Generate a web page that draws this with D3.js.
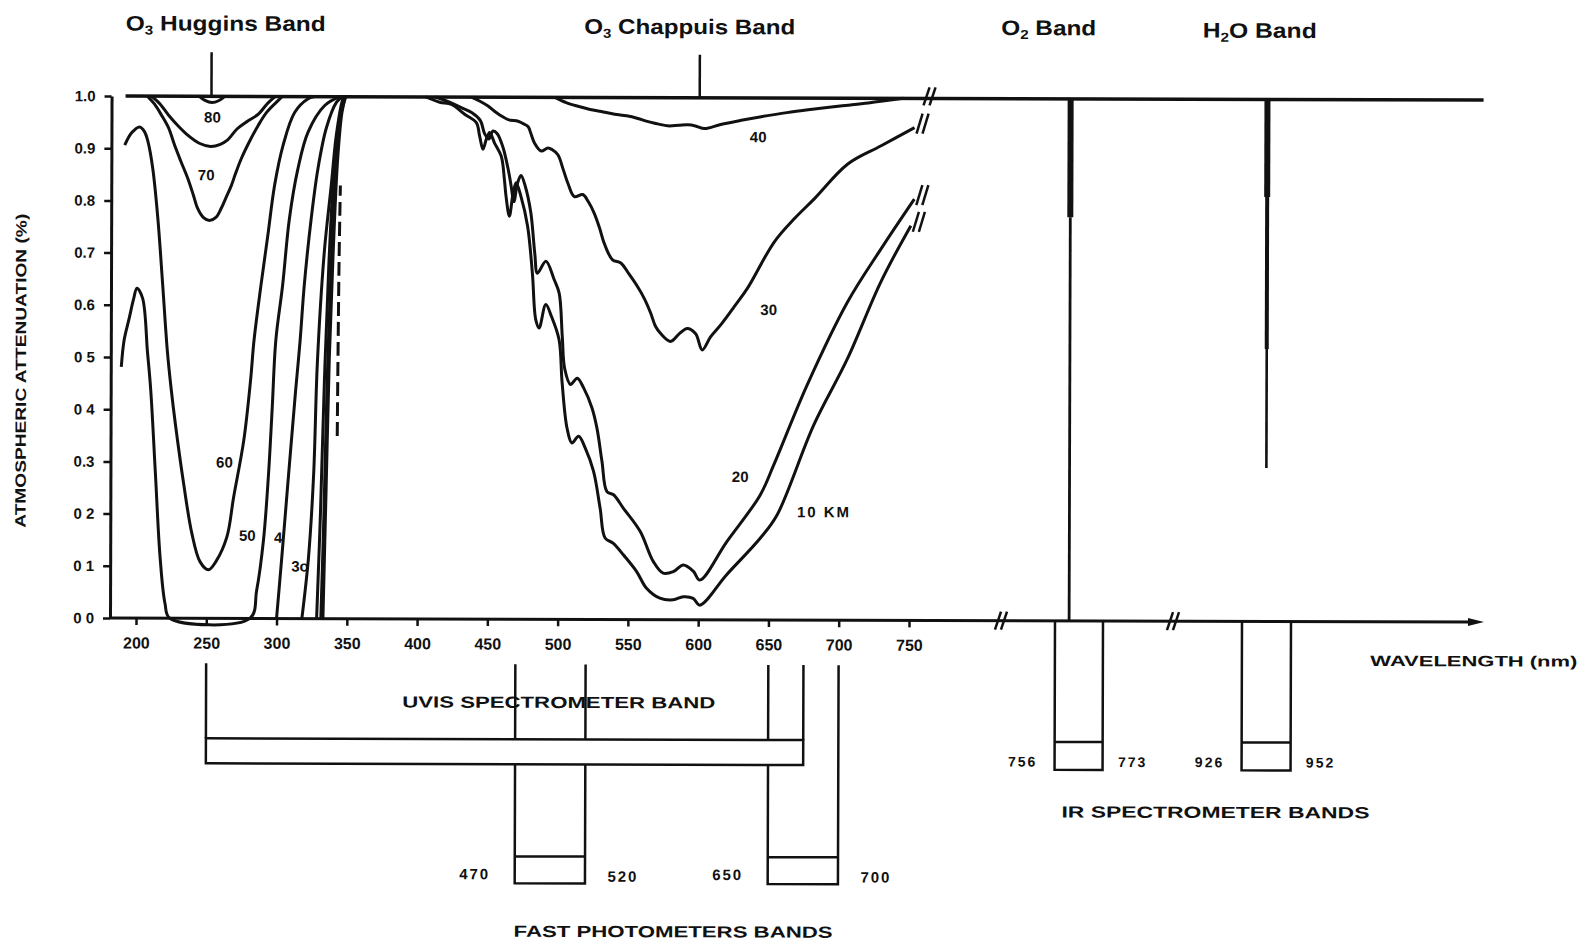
<!DOCTYPE html>
<meta charset="utf-8">

<!-- Load d3.js -->
<script src="https://d3js.org/d3.v7.min.js"></script>

<style>
  body { margin: 0; background: #fff; }
  text { font-family: "Liberation Sans", Arial, sans-serif; font-weight: bold; fill: #111; }
</style>

<!-- Create a div where the graph will take place -->
<div id="my_dataviz"></div>

<script>
// ---------- values ----------

// y axis
var yTicks = [0, 0.1, 0.2, 0.3, 0.4, 0.5, 0.6, 0.7, 0.8, 0.9, 1.0];
var yTickLabels = ["0 0", "0 1", "0 2", "0.3", "0 4", "0 5", "0.6", "0.7", "0.8", "0.9", "1.0"];

// x axis, wavelength in nm
var xTicks = [200, 250, 300, 350, 400, 450, 500, 550, 600, 650, 700, 750];

// O3 Huggins band curves [nm, attenuation]
var huggins90 = [[244, 1.0], [248, 0.992], [253, 0.988], [258, 0.992], [262, 1.0]];
var huggins80 = [[210, 1.0], [216, 0.985], [222, 0.964], [229, 0.943], [236, 0.925], [244, 0.91], [252, 0.904],
  [259, 0.908], [264, 0.916], [271, 0.938], [278, 0.952], [286, 0.966], [292, 0.985], [298, 1.0]];
var huggins70 = [[207, 1.0], [212, 0.985], [217, 0.964], [222, 0.94], [226.5, 0.906], [231, 0.875], [236, 0.842],
  [240, 0.81], [243, 0.785], [247, 0.768], [251.4, 0.762], [256, 0.768], [259.7, 0.785], [263, 0.805],
  [266.9, 0.829], [270, 0.853], [274, 0.881], [280, 0.915], [285.8, 0.944], [292, 0.97], [300, 0.992], [303, 1.0]];
var huggins60 = [[191, 0.906], [196, 0.93], [201.6, 0.941], [205, 0.932], [207.6, 0.912], [211, 0.861],
  [214.7, 0.766], [218.3, 0.638], [221.8, 0.51], [224.5, 0.44], [227.7, 0.37], [233.6, 0.258], [239.6, 0.162],
  [245.5, 0.108], [251.4, 0.093], [257, 0.11], [264.5, 0.156], [269.2, 0.232], [276.3, 0.341], [281, 0.456],
  [283.4, 0.533], [288.2, 0.638], [293, 0.734], [297.7, 0.83], [303.6, 0.906], [311.9, 0.97], [321.4, 0.996], [326, 1.0]];
var huggins50 = [[189, 0.481], [191, 0.533], [194.5, 0.574], [197.5, 0.61], [200, 0.632], [204, 0.613],
  [207.6, 0.51], [210, 0.437], [213.5, 0.277], [217, 0.117], [220.6, 0.028], [224, 0], [281, 0], [285.8, 0.054],
  [290.5, 0.149], [294, 0.277], [296.5, 0.405], [298.9, 0.533], [303.6, 0.638], [308.3, 0.766], [314.2, 0.861],
  [321.4, 0.932], [333.2, 0.983], [344, 1.0]];
var huggins40 = [[300, 0], [303.6, 0.117], [308.3, 0.277], [313.1, 0.437], [316.2, 0.533], [319, 0.638],
  [323.8, 0.766], [328.5, 0.862], [334.4, 0.94], [341.5, 0.989], [346, 1.0]];
var huggins30 = [[318, 0], [322.6, 0.117], [326.1, 0.277], [328.5, 0.49], [333.2, 0.702], [338, 0.83],
  [341.5, 0.926], [345.5, 0.99], [347, 1.0]];
var huggins20 = [[328.5, 0], [331, 0.2], [333.5, 0.45], [336.5, 0.68], [340, 0.86], [344, 0.96], [347.5, 1.0]];
var huggins10 = [[331.5, 0], [333.5, 0.2], [335.5, 0.45], [338.5, 0.7], [341.5, 0.87], [345, 0.97], [348, 1.0]];
var huggins0 = [[333, 0], [335, 0.25], [337, 0.5], [339.5, 0.7], [342.5, 0.88], [345.5, 0.97], [348, 1.0]];
var hugginsBroken = [[342.8, 0.35], [343.3, 0.55], [343.8, 0.7], [344.5, 0.83]];

// O3 Chappuis band curves [nm, attenuation]
var chappuis40 = [[497, 1.0], [505, 0.99], [513.4, 0.983], [522, 0.977], [530, 0.973], [539.5, 0.968],
  [548, 0.965], [556, 0.96], [562, 0.955], [568, 0.951], [577.4, 0.946], [585, 0.947], [591.6, 0.948],
  [597, 0.946], [603.5, 0.941], [615, 0.949], [629.6, 0.957], [643.8, 0.964], [662, 0.972], [681.7, 0.979],
  [700, 0.985], [720, 0.991], [745, 1.0]];
var chappuis30 = [[437.6, 1.0], [443, 0.993], [449.4, 0.983], [455, 0.971], [458.9, 0.964], [463.7, 0.957],
  [470.8, 0.954], [474, 0.95], [477.9, 0.944], [480, 0.93], [482.6, 0.912], [487.3, 0.897], [492.1, 0.903],
  [495, 0.9], [499.2, 0.89], [503, 0.862], [506.3, 0.836], [511, 0.81], [517, 0.814], [521, 0.8], [525.2, 0.778],
  [529, 0.75], [532.3, 0.721], [538.3, 0.689], [544.2, 0.683], [550, 0.662], [556.1, 0.638], [561, 0.615],
  [565.6, 0.587], [569, 0.562], [572.7, 0.548], [579.8, 0.533], [586, 0.548], [591.6, 0.558], [597.6, 0.548],
  [602.3, 0.517], [608.2, 0.542], [615.4, 0.565], [625, 0.6], [634.3, 0.635], [653.3, 0.724], [668, 0.77],
  [681.7, 0.807], [705.5, 0.874], [729.2, 0.909], [752.9, 0.944]];
var chappuis20 = [[412, 1.0], [422, 0.99], [430, 0.98], [438, 0.97], [444, 0.955], [447, 0.93], [450, 0.92],
  [453, 0.935], [456, 0.93], [460, 0.905], [464, 0.86], [466, 0.83], [468, 0.8], [470.5, 0.835], [473, 0.85],
  [476, 0.83], [480, 0.78], [483, 0.7], [484.9, 0.663], [490.9, 0.686], [496.8, 0.651], [500.4, 0.625],
  [502.7, 0.542], [504.5, 0.48], [508.7, 0.45], [513.4, 0.462], [518.1, 0.443], [524, 0.405], [527.6, 0.366],
  [531.2, 0.303], [534.8, 0.245], [539.5, 0.239], [546.6, 0.213], [558.5, 0.169], [568, 0.111], [575, 0.089],
  [582.2, 0.092], [589.3, 0.105], [596.4, 0.093], [601.1, 0.076], [620, 0.149], [643.8, 0.239], [653.3, 0.296],
  [677, 0.45], [705.5, 0.609], [729.2, 0.711], [752.9, 0.807]];
var chappuis10 = [[405, 1.0], [415, 0.99], [423.3, 0.986], [432.8, 0.967], [441.1, 0.951], [443.5, 0.925],
  [445.9, 0.9], [448.2, 0.919], [450.6, 0.932], [454.1, 0.912], [458.9, 0.887], [461.2, 0.842], [462.4, 0.81],
  [464.8, 0.772], [467.1, 0.81], [469.5, 0.836], [473, 0.81], [477.8, 0.753], [481.3, 0.663], [483.8, 0.574],
  [486.2, 0.558], [490.9, 0.603], [495, 0.58], [500.4, 0.536], [502.7, 0.453], [506.3, 0.366], [509.8, 0.338],
  [514.6, 0.351], [519.3, 0.328], [525.2, 0.284], [530, 0.213], [533.6, 0.156], [539.5, 0.146], [546.6, 0.124],
  [556.1, 0.092], [563.2, 0.06], [572.7, 0.041], [582.2, 0.038], [589.3, 0.044], [596.4, 0.041], [601.1, 0.028],
  [620, 0.086], [643.8, 0.156], [655.7, 0.2], [681.7, 0.373], [705.5, 0.5], [729.2, 0.648], [750.5, 0.756]];

// curve labels [text, nm, attenuation]
var curveLabels = [["80", 253.3, 0.96], ["70", 249, 0.849], ["60", 262.6, 0.299], ["50", 279, 0.159],
  ["4", 301, 0.155], ["3o", 316.6, 0.10], ["40", 641.7, 0.925], ["30", 649.5, 0.594], ["20", 629.6, 0.274],
  ["10 KM", 689.3, 0.207]];

// absorption lines in the IR part
var o2LineNm = 761;
var o2Levels = [1.0, 0.773, 0.0];
var h2oLineNm = 938.7;
var h2oLevels = [1.0, 0.813, 0.522, 0.294];

// instrument bands [from nm, to nm]
var uvisBand = [250, 675];
var photometerBands = [[470, 520], [650, 700]];
var irBands = [[756, 773], [926, 952]];

// band pointers above the plot (nm)
var hugginsPointer = 252.6;
var chappuisPointer = 600;

// ---------- drawing ----------
var width = 1586, height = 945;

var svg = d3.select("#my_dataviz")
  .append("svg")
    .attr("width", width)
    .attr("height", height);

// the scan is turned a little, so is the drawing
var g = svg.append("g")
  .attr("transform", "rotate(0.17,110,618)");

// wavelength axis 200-750
var x = d3.scaleLinear()
  .domain([200, 750])
  .range([136, 909]);

// broken part of the axis: two IR windows
var xIR = d3.scaleLinear()
  .domain([756, 773, 926, 952])
  .range([1055, 1103, 1242, 1291]);

var y = d3.scaleLinear()
  .domain([0, 1])
  .range([618, 96]);

var line = d3.line()
  .x(function(d) { return x(d[0]); })
  .y(function(d) { return y(d[1]); })
  .curve(d3.curveCatmullRom.alpha(0.5));

function addText(px, py, str, size, anchor, len) {
  var t = g.append("text")
    .attr("x", px)
    .attr("y", py)
    .attr("dy", "0.35em")
    .style("font-size", size + "px")
    .style("text-anchor", anchor || "middle")
    .text(str);
  if (len) t.attr("textLength", len).attr("lengthAdjust", "spacingAndGlyphs");
  return t;
}

// title with a subscript digit
function addTitle(px, py, first, sub, rest, len) {
  var t = g.append("text")
    .attr("x", px)
    .attr("y", py)
    .attr("dy", "0.35em")
    .style("font-size", "21px")
    .style("text-anchor", "middle")
    .attr("textLength", len)
    .attr("lengthAdjust", "spacingAndGlyphs");
  t.append("tspan").text(first);
  t.append("tspan").text(sub).style("font-size", "13px").attr("dy", "4");
  t.append("tspan").text(rest).attr("dy", "-4");
}

function breakMark(cx, cy, len) {
  [-3, 3].forEach(function(o) {
    g.append("line")
      .attr("x1", cx + o - 3).attr("y1", cy + len / 2)
      .attr("x2", cx + o + 3).attr("y2", cy - len / 2)
      .attr("stroke", "#111")
      .attr("stroke-width", 2.5);
  });
}

// top line at 1.0
g.append("line")
  .attr("x1", 124).attr("x2", 1482)
  .attr("y1", y(1)).attr("y2", y(1))
  .attr("stroke", "#111")
  .attr("stroke-width", 3.5);
breakMark(928, y(1) - 2, 18);

// y axis
var yAxis = g.append("g")
  .attr("transform", "translate(110,0)")
  .call(d3.axisLeft(y)
    .tickValues(yTicks)
    .tickFormat(function(d, i) { return yTickLabels[i]; })
    .tickSize(7)
    .tickSizeOuter(0)
    .tickPadding(9));
yAxis.select(".domain").attr("stroke-width", 3).attr("stroke", "#111");
yAxis.selectAll(".tick line").attr("stroke-width", 2.5).attr("stroke", "#111");
yAxis.selectAll(".tick text").style("font-size", "15px");

// x axis
var xAxis = g.append("g")
  .attr("transform", "translate(0,618)")
  .call(d3.axisBottom(x)
    .tickValues(xTicks)
    .tickSize(7)
    .tickSizeOuter(0)
    .tickPadding(12));
xAxis.select(".domain").remove();
xAxis.selectAll(".tick line").attr("stroke-width", 2.5).attr("stroke", "#111");
xAxis.selectAll(".tick text").style("font-size", "16px");

g.append("line")
  .attr("x1", 110).attr("x2", 1474)
  .attr("y1", 618).attr("y2", 618)
  .attr("stroke", "#111")
  .attr("stroke-width", 3);
g.append("path")
  .attr("d", "M1468,614L1484,618L1468,622Z")
  .attr("fill", "#111");
breakMark(1001, 618, 18);
breakMark(1173, 618, 18);

// curves
var hugginsCurves = [huggins90, huggins80, huggins70, huggins60, huggins50,
  huggins40, huggins30, huggins20, huggins10, huggins0];
var chappuisCurves = [chappuis40, chappuis30, chappuis20, chappuis10];

g.selectAll("path.curve")
  .data(hugginsCurves.concat(chappuisCurves))
  .enter()
  .append("path")
    .attr("class", "curve")
    .attr("d", line)
    .attr("fill", "none")
    .attr("stroke", "#111")
    .attr("stroke-width", 3)
    .attr("stroke-linejoin", "round");

g.append("path")
  .attr("d", line(hugginsBroken))
  .attr("fill", "none")
  .attr("stroke", "#111")
  .attr("stroke-width", 3)
  .attr("stroke-dasharray", "14 6");

// break marks where the Chappuis curves leave the plot
[chappuis30, chappuis20, chappuis10].forEach(function(c) {
  var last = c[c.length - 1];
  breakMark(x(last[0]) + 8, y(last[1]) - 4, 20);
});

// curve labels
curveLabels.forEach(function(d) {
  var t = addText(x(d[1]), y(d[2]), d[0], 15);
  if (d[0] === "10 KM") t.style("letter-spacing", "2px");
});

// pointers to the band titles
g.append("line")
  .attr("x1", x(hugginsPointer)).attr("x2", x(hugginsPointer))
  .attr("y1", 52).attr("y2", y(1))
  .attr("stroke", "#111").attr("stroke-width", 2.5);
g.append("line")
  .attr("x1", x(chappuisPointer)).attr("x2", x(chappuisPointer))
  .attr("y1", 53).attr("y2", y(1))
  .attr("stroke", "#111").attr("stroke-width", 2.5);

addTitle(224, 23, "O", "3", " Huggins Band", 200);
addTitle(688, 25, "O", "3", " Chappuis Band", 211);
addTitle(1047, 25, "O", "2", " Band", 95);
addTitle(1258, 27, "H", "2", "O Band", 114);

// O2 and H2O lines
function absorptionLine(nm, levels, widths) {
  for (var i = 0; i < levels.length - 1; i++) {
    g.append("line")
      .attr("x1", xIR(nm)).attr("x2", xIR(nm))
      .attr("y1", y(levels[i])).attr("y2", y(levels[i + 1]))
      .attr("stroke", "#111")
      .attr("stroke-width", widths[i]);
  }
}
absorptionLine(o2LineNm, o2Levels, [6, 2.8]);
absorptionLine(h2oLineNm, h2oLevels, [6, 4, 2.6]);

// fast photometer bands
photometerBands.forEach(function(b) {
  var l = x(b[0]), r = x(b[1]);
  g.append("path")
    .attr("d", "M" + l + ",663V882H" + r + "V663M" + l + ",855H" + r)
    .attr("fill", "none").attr("stroke", "#111").attr("stroke-width", 2.5);
  addText(l - 40, 873, String(b[0]), 15).style("letter-spacing", "2px");
  addText(r + 38, 875, String(b[1]), 15).style("letter-spacing", "2px");
});

// UVIS band, drawn over the photometer lines
var ul = x(uvisBand[0]), ur = x(uvisBand[1]);
g.append("rect")
  .attr("x", ul).attr("y", 738)
  .attr("width", ur - ul).attr("height", 25)
  .attr("fill", "#fff").attr("stroke", "#111").attr("stroke-width", 2.5);
g.append("path")
  .attr("d", "M" + ul + ",663V738M" + ur + ",663V738")
  .attr("stroke", "#111").attr("stroke-width", 2.5);

// IR spectrometer bands
irBands.forEach(function(b) {
  var l = xIR(b[0]), r = xIR(b[1]);
  g.append("path")
    .attr("d", "M" + l + ",618V767H" + r + "V618M" + l + ",739H" + r)
    .attr("fill", "none").attr("stroke", "#111").attr("stroke-width", 2.5);
  addText(l - 32, 759, String(b[0]), 14).style("letter-spacing", "2px");
  addText(r + 30, 759, String(b[1]), 14).style("letter-spacing", "2px");
});

// axis and band captions
g.append("text")
  .attr("transform", "translate(20,371)rotate(-90)")
  .attr("dy", "0.35em")
  .style("font-size", "15px")
  .style("text-anchor", "middle")
  .attr("textLength", 314)
  .attr("lengthAdjust", "spacingAndGlyphs")
  .text("ATMOSPHERIC ATTENUATION (%)");

addText(1474, 657, "WAVELENGTH (nm)", 15, "middle", 207);
addText(559, 701, "UVIS SPECTROMETER BAND", 16, "middle", 313);
addText(1216, 809, "IR SPECTROMETER   BANDS", 16, "middle", 308);
addText(674, 930, "FAST PHOTOMETERS  BANDS", 16, "middle", 319);
</script>
